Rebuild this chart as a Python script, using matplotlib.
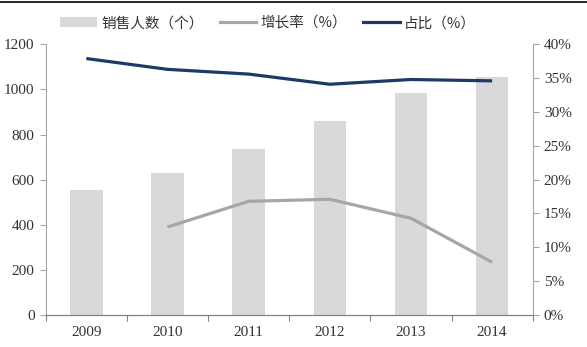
import matplotlib.pyplot as plt
from matplotlib.lines import Line2D
from matplotlib.patches import Patch
from matplotlib.ticker import FuncFormatter

plt.rcParams['font.family'] = ['Liberation Serif', 'Noto Sans CJK SC']

years = ['2009', '2010', '2011', '2012', '2013', '2014']
sales_staff = [554, 631, 734, 861, 984, 1056]
growth_rate = [None, 13.0, 16.8, 17.1, 14.3, 7.8]
share = [37.9, 36.3, 35.6, 34.1, 34.8, 34.6]

bar_color = '#d9d9d9'
growth_color = '#a6a6a6'
share_color = '#1b3a66'
text_color = '#333333'

fig = plt.figure(figsize=(5.87, 3.47), dpi=100)
ax = fig.add_axes([0.0779, 0.0922, 0.8296, 0.7801])
ax2 = ax.twinx()

x = list(range(len(years)))
ax.bar(x, sales_staff, width=0.4, color=bar_color, zorder=1)

gx = [i for i, v in zip(x, growth_rate) if v is not None]
gy = [v for v in growth_rate if v is not None]
ax2.plot(gx, gy, color=growth_color, lw=2.3, solid_capstyle='butt')
ax2.plot(x, share, color=share_color, lw=2.3, solid_capstyle='butt')

ax.set_xlim(-0.5, len(years) - 0.5)
ax.set_ylim(0, 1200)
ax.set_yticks(range(0, 1201, 200))
ax2.set_ylim(0, 40)
ax2.set_yticks(range(0, 41, 5))
ax2.yaxis.set_major_formatter(FuncFormatter(lambda v, p: f'{v:.0f}%'))

# year labels sit between boundary ticks
ax.set_xticks([i - 0.5 for i in range(len(years) + 1)])
ax.set_xticklabels([])
ax.set_xticks(x, minor=True)
ax.set_xticklabels(years, minor=True)
ax.tick_params(axis='x', which='minor', length=0, pad=8)

for a in (ax, ax2):
    a.spines['top'].set_visible(False)
    for s in ('left', 'right'):
        a.spines[s].set_color('#a6a6a6')
    a.spines['bottom'].set_color('#808080')
    a.tick_params(which='both', labelsize=11, colors=text_color)
ax.spines['right'].set_visible(False)
ax2.spines['left'].set_visible(False)
ax.tick_params(axis='y', length=4, color='#a6a6a6', pad=4)
ax2.tick_params(axis='y', length=4, color='#a6a6a6', pad=4)
ax.tick_params(axis='x', which='major', length=4, color='#808080')

handles = [
    Patch(facecolor=bar_color, edgecolor='none'),
    Line2D([], [], color=growth_color, lw=2.3),
    Line2D([], [], color=share_color, lw=2.3),
]
labels = ['销售人数（个）', '增长率（%）', '占比（%）']
fig.legend(handles, labels, loc='center', bbox_to_anchor=(0.457, 0.933),
           ncol=3, frameon=False,
           prop={'family': ['Noto Sans CJK SC'], 'size': 10.5},
           handlelength=2.5, handleheight=0.6, handletextpad=0.3,
           columnspacing=1.1, labelcolor=text_color)

# thin rule along the top edge
fig.add_artist(Line2D([0, 1], [0.994, 0.994], color='black', lw=1.2,
                      transform=fig.transFigure))

fig.savefig('out.png', dpi=100)
